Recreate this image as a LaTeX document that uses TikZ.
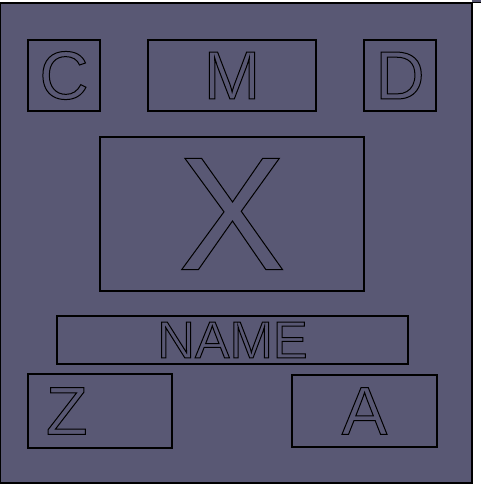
\documentclass[tikz,border=0pt]{standalone}
\usepackage{xcolor}
\usepackage{tikz}
\usepackage{fontspec}
\setmainfont{Liberation Sans}
\definecolor{panelGray}{RGB}{89, 88, 116}
\newcommand{\hollow}[2]{{\fontsize{#1}{#1}\selectfont\special{pdf:literal direct 1 Tr 1 w}#2\special{pdf:literal direct 0 Tr}}}

\begin{document}
\begin{tikzpicture}[x=1pt, y=-1pt,
    box/.style={draw=black, line width=2.4pt, minimum width=#1, inner sep=0pt},
    box/.default=72pt]
            \useasboundingbox (0,0) rectangle (481,487);

            % Panel
            \filldraw[fill=panelGray, draw=black, line width=1.5pt] (0,3) rectangle (472,483);
            \fill[panelGray] (472,0) rectangle (481,3);
            \draw[line width=1pt] (472,3) -- (481,3);

            % Top row
            \node[box, minimum height=71pt] (c) at (64,75.5) {\hollow{68}{C}};
            \node[box=168pt, minimum height=71pt] (m) at (232,75.5) {\hollow{68}{M}};
            \node[box, minimum height=71pt] (d) at (400,75.5) {\hollow{68}{D}};

            % Middle
            \node[box=264pt, minimum height=154pt] (x) at (232,214) {\hollow{162}{X}};
            \node[box=351pt, minimum height=48pt] (name) at (232.5,340) {\hollow{52}{NAME}};

            % Bottom row
            \node[box=144pt, minimum height=74pt, text width=108pt, align=left, inner xsep=17pt] (z) at (100,411) {\hollow{68}{Z}};
            \node[box=145pt, minimum height=72pt] (a) at (364.5,411) {\hollow{68}{A}};
        \end{tikzpicture}
\end{document}
